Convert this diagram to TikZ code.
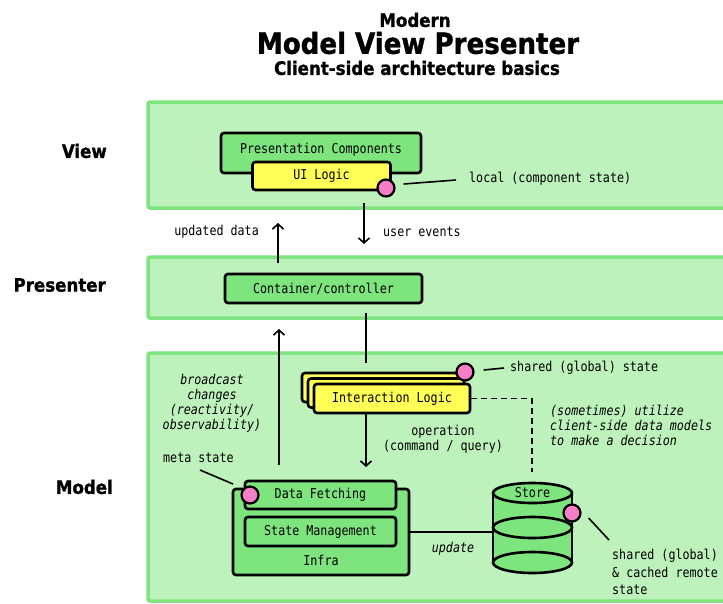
\documentclass[tikz,border=0pt]{standalone}
\usepackage{fontspec}
\setmonofont{DejaVu Sans Mono}[FakeStretch=0.86]
\newfontfamily\headfont{DejaVu Sans Condensed}[FakeBold=1.2]
\usetikzlibrary{arrows.meta}

\definecolor{bandfill}{HTML}{BEF2BC}
\definecolor{bandline}{HTML}{7FE47F}
\definecolor{boxgreen}{HTML}{7EE47E}
\definecolor{logicyellow}{HTML}{FFFF57}
\definecolor{statepink}{HTML}{F57EC6}

\begin{document}
\begin{tikzpicture}[x=1pt,y=-1pt,
  band/.style={draw=bandline, fill=bandfill, line width=3.5pt, rounded corners=2pt},
  gbox/.style={draw=black, fill=boxgreen, line width=2.6pt, rounded corners=3pt, inner sep=0pt},
  ybox/.style={draw=black, fill=logicyellow, line width=2.6pt, rounded corners=3pt, inner sep=0pt},
  dot/.style={circle, draw=black, fill=statepink, line width=2.2pt, minimum size=17pt, inner sep=0pt},
  mono/.style={font=\ttfamily\fontsize{13.6}{15}\selectfont, inner sep=0pt},
  note/.style={font=\ttfamily\itshape\fontsize{13.6}{15}\selectfont, inner sep=0pt, align=center},
  layer/.style={font=\headfont\bfseries\fontsize{18.5}{20}\selectfont, inner sep=0pt},
  flow/.style={line width=1.6pt, -{Straight Barb[length=5pt,width=11pt]}},
  link/.style={line width=1.6pt},
  hidden/.style={inner sep=0pt, draw=none},
]
\useasboundingbox (0,0) rectangle (723,603);
\clip (0,0) rectangle (723,603);

% title
\node[font=\headfont\bfseries\fontsize{18.5}{20}\selectfont, inner sep=0pt] (title1) at (415,20) {Modern};
\node[font=\headfont\bfseries\fontsize{29}{30}\selectfont, inner sep=0pt] (title2) at (418,43) {Model View Presenter};
\node[font=\headfont\bfseries\fontsize{18.5}{20}\selectfont, inner sep=0pt] (title3) at (417,68) {Client-side architecture basics};

% layer bands
\draw[band] (148,102) rectangle (745,208);
\draw[band] (148,257) rectangle (745,318);
\draw[band] (148,353) rectangle (745,601);

% layer names
\node[layer, anchor=east] (lview) at (107,151) {View};
\node[layer, anchor=east] (lpres) at (106,285) {Presenter};
\node[layer, anchor=east] (lmodel) at (113,487) {Model};

% view layer
\node[gbox, minimum width=200pt, minimum height=40pt] (pc) at (321,153) {};
\node[mono] (pctext) at (321,150) {Presentation Components};
\node[ybox, mono, minimum width=138pt, minimum height=28pt] (ui) at (321.5,176) {UI Logic};
\node[dot] (uidot) at (386,188) {};
\node[mono, anchor=west] (localtxt) at (469,179) {local (component state)};
\draw[link] ([shift={(8,-4)}]uidot.east) -- ([shift={(-13,1)}]localtxt.west);

% between view and presenter
\coordinate (ueTop) at (364,203);
\coordinate (ueTip) at (364,244);
\draw[flow] (ueTop) -- (ueTip);
\node[mono, anchor=west] (uetxt) at (383,232) {user events};
\coordinate (udBot) at (278,263);
\coordinate (udTip) at (278,223);
\draw[flow] (udBot) -- (udTip);
\node[mono, anchor=east] (udtxt) at (259,232) {updated data};

% presenter layer
\node[gbox, mono, minimum width=197pt, minimum height=29pt] (cc) at (323.5,288.5) {Container/controller};

% interaction logic stack
\node[ybox, minimum width=156pt, minimum height=29pt] (ilback) at (380,387.5) {};
\node[ybox, minimum width=156pt, minimum height=29pt] (ilmid) at (386,393) {};
\node[ybox, mono, minimum width=156pt, minimum height=29pt] (il) at (392,398.5) {Interaction Logic};
\node[dot] (ildot) at (465,372) {};
\node[mono, anchor=west] (sharedtxt) at (510,368) {shared (global) state};
\draw[link] ([shift={(9,-2)}]ildot.east) -- ([shift={(-6,0)}]sharedtxt.west);

\coordinate (ccOut) at (366,313);
\coordinate (ilIn) at (366,363);
\draw[link] (ccOut) -- (ilIn);

% operation arrow
\coordinate (opTop) at (366,413);
\coordinate (opTip) at (366,467);
\draw[flow] (opTop) -- (opTip);
\node[mono, align=center] (optxt) at (443,439.5) {operation\\(command / query)};

% broadcast arrow
\coordinate (bcBot) at (279,465);
\coordinate (bcTip) at (279,329);
\draw[flow] (bcBot) -- (bcTip);
\node[note] (bctxt) at (212,403.5) {broadcast\\changes\\(reactivity/\\observability)};

% infra
\node[gbox, minimum width=176pt, minimum height=86pt] (infra) at (321,532) {};
\node[mono] (infratxt) at (321,560) {Infra};
\node[gbox, mono, minimum width=151pt, minimum height=28pt] (df) at (320.5,495) {Data Fetching};
\node[gbox, mono, minimum width=151pt, minimum height=29pt] (sm) at (320.5,531.5) {State Management};
\node[dot] (dfdot) at (250,495) {};
\node[mono, anchor=west] (metatxt) at (163,458) {meta state};
\coordinate (metaEnd) at (233,484);
\draw[link] ([shift={(37,12)}]metatxt.west) -- (metaEnd);

% store cylinder
\node[hidden, minimum width=79pt, minimum height=90pt] (store) at (532.5,527.5) {};
\fill[boxgreen] (493,493) rectangle (572,562.5);
\draw[line width=2.6pt] (493,493) -- (493,562.5) (572,493) -- (572,562.5);
\draw[line width=2.6pt, fill=boxgreen] (532.5,562.5) ellipse [x radius=39.5, y radius=10.5];
\draw[line width=2.6pt, fill=boxgreen] (532.5,527.5) ellipse [x radius=39.5, y radius=10.5];
\draw[line width=2.6pt, fill=boxgreen] (532.5,493) ellipse [x radius=39.5, y radius=10];
\node[mono] (storetxt) at (532.5,493) {Store};
\node[dot] (storedot) at (572,513) {};
\node[mono, anchor=north west, align=left, font=\ttfamily\fontsize{13.6}{17.5}\selectfont] (cachedtxt) at (612,549) {shared (global)\\\& cached remote\\state};
\draw[link] ([shift={(7,5)}]storedot.east) -- ([shift={(-3,-9)}]cachedtxt.north west);

% update line
\draw[link] (infra.east) -- (infra.east -| store.west);
\node[note] (updtxt) at (453,549) {update};

% dashed decision link
\coordinate (dashEnd) at (532,472);
\draw[link, dash pattern=on 6pt off 4pt] (il.east) -| (dashEnd);
\node[note, align=left, anchor=west] (dectxt) at (550,425) {(sometimes) utilize\\client-side data models\\to make a decision};
\end{tikzpicture}
\end{document}
